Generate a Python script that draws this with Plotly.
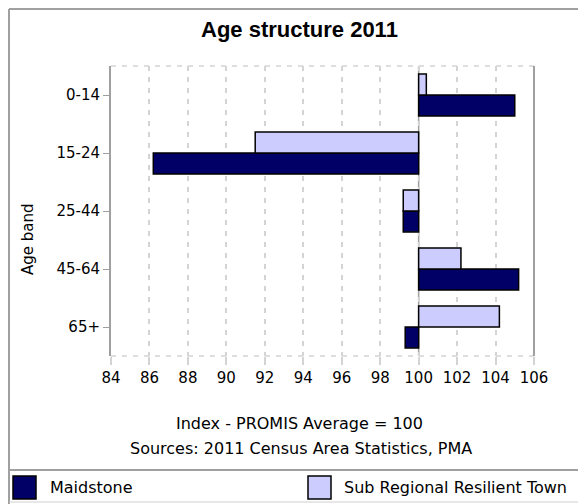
import plotly.graph_objects as go

# Data (index, PROMIS average = 100)
age_bands = ['0-14', '15-24', '25-44', '45-64', '65+']
maidstone = [105.0, 86.2, 99.2, 105.2, 99.3]
sub_regional = [100.4, 91.5, 99.2, 102.2, 104.2]
series_names = ['Maidstone', 'Sub Regional Resilient Town']
series_colors = ['#000066', '#ccccff']
x_ticks = list(range(84, 107, 2))
base_value = 100

# the page puts the figure 8px in from the top-left corner
OFF = 8
W, H = 586 - OFF, 504 - OFF
PL, PR, PT, PB = 111, 534, 66, 356   # plot area in page pixels
PW, PH = PR - PL, PB - PT


# page pixel -> paper helpers for the frame decoration
def px(x):
    return (x - PL) / PW


def py(y):
    return (PB - y) / PH


FONT = 'DejaVu Sans'
GRAY = '#a0a0a0'
GRID = '#d4d4d4'
DASH = '5px,6px'

fig = go.Figure()

for name, vals, col in zip(series_names, [maidstone, sub_regional], series_colors):
    fig.add_trace(go.Bar(
        y=age_bands, x=[v - base_value for v in vals], base=base_value,
        orientation='h', name=name,
        marker=dict(color=col, line=dict(color='black', width=1.5)),
        showlegend=False,
    ))

shapes = []
# reference line at 100
shapes.append(dict(type='line', xref='x', yref='paper', x0=base_value, x1=base_value,
                   y0=0, y1=1, line=dict(color=GRAY, width=1.5), layer='below'))
# dashed top/bottom edges of the plot, solid right edge
for yy in (0, 1):
    shapes.append(dict(type='line', xref='paper', yref='paper', x0=0, x1=1, y0=yy, y1=yy,
                       line=dict(color=GRID, width=1.5, dash=DASH)))
shapes.append(dict(type='line', xref='paper', yref='paper', x0=1, x1=1, y0=0, y1=1,
                   line=dict(color=GRAY, width=2)))
# outer frame and legend separator
shapes.append(dict(type='line', xref='paper', yref='paper', x0=px(9), x1=px(600),
                   y0=py(9), y1=py(9), line=dict(color=GRAY, width=2)))
shapes.append(dict(type='line', xref='paper', yref='paper', x0=px(9), x1=px(9),
                   y0=py(9), y1=py(520), line=dict(color=GRAY, width=2)))
shapes.append(dict(type='line', xref='paper', yref='paper', x0=px(9), x1=px(600),
                   y0=py(470), y1=py(470), line=dict(color=GRAY, width=2)))
shapes.append(dict(type='line', xref='paper', yref='paper', x0=px(9), x1=px(600),
                   y0=py(502), y1=py(502), line=dict(color='#d0d0d0', width=1)))

annotations = [
    dict(text='<b>Age structure 2011</b>', x=px(299), y=py(30), xref='paper', yref='paper',
         showarrow=False, xanchor='center', yanchor='middle',
         font=dict(family='Liberation Sans', size=22, color='black')),
    dict(text='Age band', x=px(28), y=py(239), xref='paper', yref='paper', textangle=-90,
         showarrow=False, xanchor='center', yanchor='middle',
         font=dict(family=FONT, size=15, color='black')),
    dict(text='Index - PROMIS Average = 100', x=px(299), y=py(423), xref='paper', yref='paper',
         showarrow=False, xanchor='center', yanchor='middle',
         font=dict(family=FONT, size=16, color='black')),
    dict(text='Sources: 2011 Census Area Statistics, PMA', x=px(301), y=py(448), xref='paper',
         yref='paper', showarrow=False, xanchor='center', yanchor='middle',
         font=dict(family=FONT, size=16, color='black')),
]

# legend swatches + labels
for name, col, sx, tx in zip(series_names, series_colors, [13, 308], [48, 342]):
    shapes.append(dict(type='rect', xref='paper', yref='paper', x0=px(sx), x1=px(sx + 23),
                       y0=py(476), y1=py(499), fillcolor=col, line=dict(color='black', width=1.5)))
    annotations.append(dict(text=name, x=px(tx), y=py(487), xref='paper', yref='paper',
                            showarrow=False, xanchor='left', yanchor='middle',
                            font=dict(family=FONT, size=16, color='black')))

fig.update_layout(
    width=W, height=H,
    margin=dict(l=PL - OFF, r=586 - PR, t=PT - OFF, b=504 - PB),
    paper_bgcolor='white', plot_bgcolor='white',
    barmode='group', bargap=0.28, bargroupgap=0,
    font=dict(family=FONT, size=15, color='black'),
    shapes=shapes, annotations=annotations,
    xaxis=dict(range=[84, 106], tickvals=x_ticks, showgrid=True, gridcolor=GRID,
               griddash=DASH, gridwidth=1.5, zeroline=False, showline=False,
               ticks='outside', ticklen=8, tickcolor=GRID, tickwidth=1.5,
               tickfont=dict(size=15)),
    yaxis=dict(categoryorder='array', categoryarray=age_bands[::-1], showgrid=False,
               showline=True, linecolor=GRAY, linewidth=2, ticks='outside', ticklen=6,
               tickcolor=GRAY, tickfont=dict(size=15), zeroline=False),
)

fig.write_html("out.html")
